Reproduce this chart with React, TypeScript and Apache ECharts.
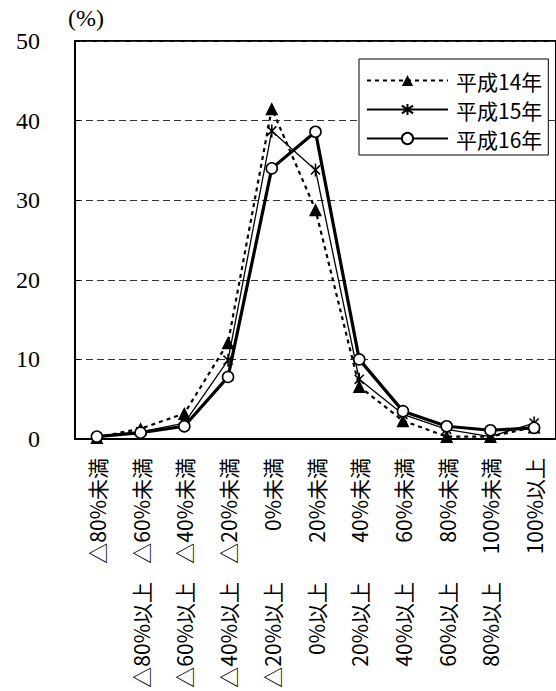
import React, { useEffect, useRef } from "react";
import * as echarts from "echarts";

const categoriesTop = [
  "△80%未満", "△60%未満", "△40%未満", "△20%未満", "0%未満", "20%未満",
  "40%未満", "60%未満", "80%未満", "100%未満", "100%以上",
];
const categoriesBottom = [
  "", "△80%以上", "△60%以上", "△40%以上", "△20%以上", "0%以上",
  "20%以上", "40%以上", "60%以上", "80%以上", "",
];
const seriesNames = ["平成14年", "平成15年", "平成16年"];
const h14 = [0.2, 1.3, 3.2, 12.1, 41.5, 28.8, 6.6, 2.3, 0.3, 0.3, 1.5];
const h15 = [0.2, 0.9, 2.0, 9.9, 38.7, 33.8, 7.5, 3.1, 1.2, 0.3, 2.0];
const h16 = [0.3, 0.8, 1.6, 7.8, 34.0, 38.6, 10.0, 3.5, 1.6, 1.1, 1.4];
const yTicks = { min: 0, max: 50, interval: 10 };

const ASTERISK = "path://M0,-10L0,10M-7,-7L7,7M-7,7L7,-7";

export default function App() {
  const ref = useRef<HTMLDivElement>(null);
  useEffect(() => {
    document.body.style.margin = "0";
    const chart = echarts.init(ref.current!, undefined, { renderer: "svg" });
    const jp = "'Noto Sans CJK JP', sans-serif";
    chart.setOption({
      animation: false,
      backgroundColor: "#fff",
      grid: {
        left: 75, top: 41, right: -4, bottom: 252,
        show: true, borderColor: "#000", borderWidth: 2, backgroundColor: "transparent",
      },
      graphic: [
        {
          type: "text", left: 68, top: 6,
          style: { text: "(%)", font: "24px 'Liberation Serif', serif", fill: "#000" },
        },
      ],
      legend: {
        orient: "vertical",
        left: 359, top: 59,
        backgroundColor: "#fff",
        borderColor: "#000", borderWidth: 1,
        padding: [11, 6, 6, 7],
        itemWidth: 81, itemHeight: 14, itemGap: 8,
        textStyle: { fontFamily: jp, fontSize: 21, lineHeight: 21, color: "#000", padding: [0, 0, 0, 3] },
        data: seriesNames,
      },
      xAxis: [
        {
          type: "category", data: categoriesTop, boundaryGap: true,
          axisLine: { lineStyle: { color: "#000", width: 2 } },
          axisTick: { inside: true, length: 5, lineStyle: { color: "#000" } },
          axisLabel: { rotate: 90, margin: 19, fontFamily: jp, fontSize: 21, color: "#000", interval: 0 },
        },
        {
          type: "category", data: categoriesBottom, boundaryGap: true, position: "bottom",
          axisLine: { show: false }, axisTick: { show: false },
          axisLabel: { rotate: 90, margin: 143, fontFamily: jp, fontSize: 21, color: "#000", interval: 0 },
        },
      ],
      yAxis: {
        type: "value", min: yTicks.min, max: yTicks.max, interval: yTicks.interval,
        axisLine: { show: true, lineStyle: { color: "#000", width: 2 } },
        axisTick: { show: true, inside: true, length: 5, lineStyle: { color: "#000" } },
        axisLabel: { margin: 35, fontFamily: "'Liberation Serif', serif", fontSize: 24, color: "#000" },
        splitLine: { show: true, lineStyle: { color: "#333", type: [7, 4], width: 1 } },
      },
      series: [
        {
          name: seriesNames[0], type: "line", data: h14, xAxisIndex: 0,
          symbol: "triangle", symbolSize: 13,
          lineStyle: { color: "#000", width: 2.2, type: [4, 4] },
          itemStyle: { color: "#000" },
        },
        {
          name: seriesNames[1], type: "line", data: h15, xAxisIndex: 0,
          symbol: ASTERISK, symbolSize: 13, symbolKeepAspect: true,
          lineStyle: { color: "#000", width: 1.3 },
          itemStyle: { color: "#000", borderColor: "#000", borderWidth: 1.6 },
        },
        {
          name: seriesNames[2], type: "line", data: h16, xAxisIndex: 0,
          symbol: "circle", symbolSize: 11,
          lineStyle: { color: "#000", width: 3.2 },
          itemStyle: { color: "#fff", borderColor: "#000", borderWidth: 1.6 },
        },
      ],
    });
    return () => chart.dispose();
  }, []);
  return <div ref={ref} style={{ width: 556, height: 691 }} />;
}
